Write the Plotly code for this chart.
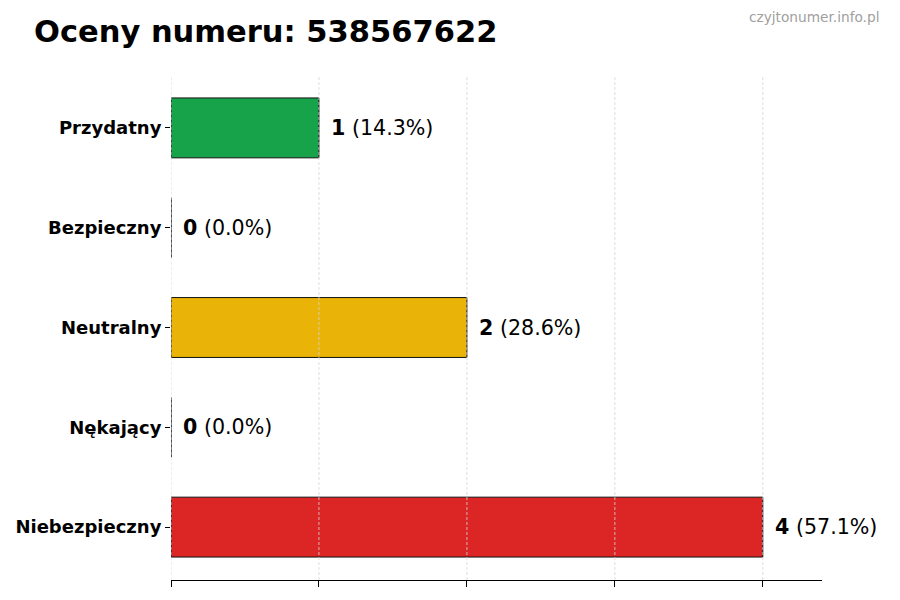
import plotly.graph_objects as go

# Ratings per category (top to bottom as displayed)
categories = ["Przydatny", "Bezpieczny", "Neutralny", "Nękający", "Niebezpieczny"]
counts = [1, 0, 2, 0, 4]
colors = ["#16a34a", "#9ca3af", "#eab308", "#f97316", "#dc2626"]
grid_ticks = [0, 1, 2, 3, 4]

total = sum(counts)
labels = [f"<b>{c}</b> ({c / total * 100:.1f}%)" for c in counts]

fig = go.Figure()
fig.add_trace(
    go.Bar(
        x=counts,
        y=categories,
        orientation="h",
        width=0.6,
        marker=dict(color=colors, line=dict(color="#111111", width=1)),
        hoverinfo="skip",
    )
)

# Value labels next to each bar
for cat, c, lab in zip(categories, counts, labels):
    fig.add_annotation(
        x=c, y=cat, text=lab, showarrow=False,
        xanchor="left", yanchor="middle", xshift=10,
        font=dict(family="DejaVu Sans", size=20.6, color="black"),
    )

# Dashed grid drawn above the bars
for t in grid_ticks:
    fig.add_shape(
        type="line", xref="x", yref="paper", x0=t, x1=t, y0=0, y1=1,
        line=dict(color="#d4d4d4", width=0.8, dash="3px,2px"), layer="above",
    )

# Watermark top-right
fig.add_annotation(
    text="czyjtonumer.info.pl", xref="paper", yref="paper",
    x=(881 - 171) / 651, y=(580 - 17) / 505,
    xanchor="right", yanchor="middle", showarrow=False,
    font=dict(family="DejaVu Sans", size=13.7, color="#a0a0a0"),
)

# the page body adds an 8px offset, so margins are shifted to compensate
fig.update_layout(
    width=900,
    height=600,
    title=dict(
        text="<b>Oceny numeru: 538567622</b>",
        xref="container", yref="container",
        x=26 / 900, y=1 - 23 / 600, xanchor="left", yanchor="middle",
        font=dict(family="DejaVu Sans", size=30.5, color="black"),
    ),
    margin=dict(l=163, r=86, t=67, b=28),
    plot_bgcolor="white",
    paper_bgcolor="white",
    showlegend=False,
    xaxis=dict(
        range=[0, 4.4],
        tickvals=grid_ticks,
        showticklabels=False,
        ticks="outside",
        ticklen=6,
        tickcolor="black",
        showgrid=False,
        zeroline=False,
        showline=True,
        linecolor="black",
        linewidth=1,
        automargin=False,
    ),
    yaxis=dict(
        categoryorder="array",
        categoryarray=categories[::-1],
        range=[-0.53, 4.53],
        ticks="outside",
        ticklen=5,
        tickcolor="black",
        showgrid=False,
        zeroline=False,
        showline=False,
        automargin=False,
        tickfont=dict(family="DejaVu Sans", size=18, color="black", weight="bold"),
    ),
    font=dict(family="DejaVu Sans"),
)

fig.write_html("out.html")
